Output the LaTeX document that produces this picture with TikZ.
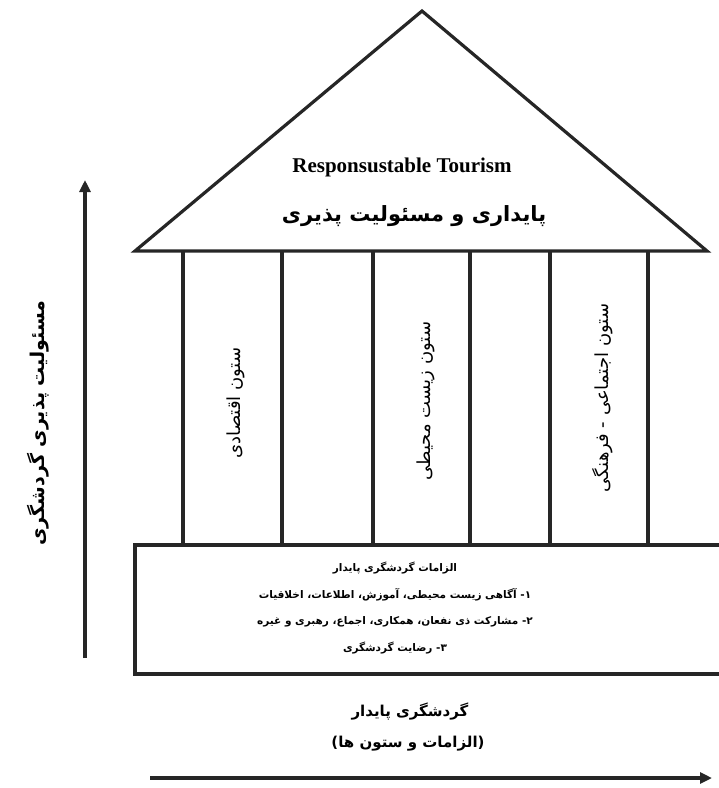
\documentclass[tikz,border=0pt]{standalone}
\usepackage{fontspec}
\setmainfont{Liberation Serif}
\newfontfamily\fa[Script=Arabic]{DejaVu Sans}
\usetikzlibrary{arrows.meta}
\TeXXeTstate=1
\begin{document}
\begin{tikzpicture}[x=1pt,y=-1pt,
  frame/.style={line width=3.2pt, draw=black!85},
  axis/.style={line width=3.2pt, draw=black!85, -{Triangle[length=12pt,width=11pt]}},
  entitle/.style={font=\bfseries\fontsize{21}{23}\selectfont, inner sep=0pt},
  fatitle/.style={font=\fa\bfseries\fontsize{21}{23}\selectfont, inner sep=0pt},
  collabel/.style={font=\fa\fontsize{18}{20}\selectfont, inner sep=0pt, rotate=90},
  boxline/.style={font=\fa\bfseries\fontsize{10.5}{12}\selectfont, inner sep=0pt},
  axislabel/.style={font=\fa\bfseries\fontsize{19}{21}\selectfont, inner sep=0pt},
  bottomlabel/.style={font=\fa\bfseries\fontsize{15}{17}\selectfont, inner sep=0pt},
]
\useasboundingbox (0,0) rectangle (719,788);
% roof
\draw[frame] (135,251) -- (422,11) -- (707,251) -- cycle;
% columns
\foreach \cx in {183,282,373,470,550,648}
  \draw[frame] (\cx,251) -- (\cx,545);
% base
\draw[frame] (725,545) -- (135,545) -- (135,674) -- (725,674);
% texts in roof
\node[entitle] (en) at (402,167) {Responsustable Tourism};
\node[fatitle] (fat) at (414,216) {\beginR پایداری و مسئولیت پذیری\endR};
% column labels
\node[collabel] (c1) at (236,403) {\beginR ستون اقتصادی\endR};
\node[collabel] (c2) at (426,401) {\beginR ستون زیست محیطی\endR};
\node[collabel] (c3) at (603,398) {\beginR ستون اجتماعی - فرهنگی\endR};
% base texts
\node[boxline] (b0) at (395,568) {\beginR الزامات گردشگری پایدار\endR};
\node[boxline] (b1) at (395,595) {\beginR ۱- آگاهی زیست محیطی، آموزش، اطلاعات، اخلاقیات\endR};
\node[boxline] (b2) at (395,622) {\beginR ۲- مشارکت ذی نفعان، همکاری، اجماع، رهبری و غیره\endR};
\node[boxline] (b3) at (395,648) {\beginR ۳- رضایت گردشگری\endR};
% axes
\coordinate (vs) at (85,658);
\coordinate (ve) at (85,180);
\draw[axis] (vs) -- (ve);
\node[axislabel, rotate=90] (vl) at (38,423) {\beginR مسئولیت پذیری گردشگری\endR};
\coordinate (hs) at (150,778);
\coordinate (he) at (712,778);
\draw[axis] (hs) -- (he);
\node[bottomlabel] (h1) at (410,711) {\beginR گردشگری پایدار\endR};
\node[bottomlabel] (h2) at (408,744) {\beginR (الزامات و ستون ها)\endR};
\end{tikzpicture}
\end{document}
